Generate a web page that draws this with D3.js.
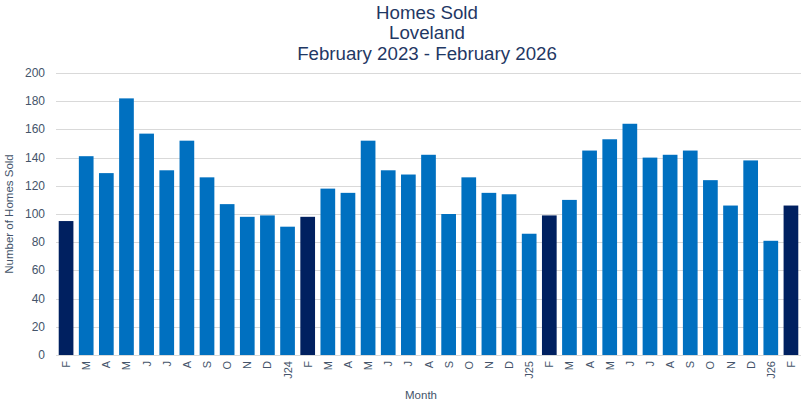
<!DOCTYPE html>
<html lang="en">
<head>
    <meta charset="UTF-8">
    <script src="https://d3js.org/d3.v7.min.js"></script>
    <style>
        body { margin: 0; background: #fff; font-family: "Liberation Sans", Arial, sans-serif; }
        .grid line { stroke: #d9d9d9; stroke-width: 1px; }
        .tick-y { font-size: 12px; fill: #44546a; }
        .tick-x { font-size: 11px; fill: #44546a; }
        .title { font-size: 18.7px; fill: #1f3864; text-anchor: middle; }
        .axis-title { font-size: 11.5px; fill: #44546a; text-anchor: middle; }
    </style>
</head>
<body>
    <svg id="chart" width="809" height="406"></svg>
    <script>
        const months = ["F","M","A","M","J","J","A","S","O","N","D","J24",
                        "F","M","A","M","J","J","A","S","O","N","D","J25",
                        "F","M","A","M","J","J","A","S","O","N","D","J26","F"];
        const sold = [95,141,129,182,157,131,152,126,107,98,99,91,
                      98,118,115,152,131,128,142,100,126,115,114,86,
                      99,110,145,153,164,140,142,145,124,106,138,81,106];
        const highlight = [0, 12, 24, 36]; // February bars
        const yTicks = [0,20,40,60,80,100,120,140,160,180,200];
        const titleLines = ["Homes Sold", "Loveland", "February 2023 - February 2026"];

        const width = 809, height = 406;
        const margin = {top: 73, right: 8, bottom: 51, left: 56};
        const svg = d3.select("#chart");

        const data = sold.map((v, i) => ({i, label: months[i], value: v}));

        const x = d3.scaleBand().domain(data.map(d => d.i))
            .range([margin.left, width - margin.right]).paddingInner(0.27).paddingOuter(0.135);
        const y = d3.scaleLinear().domain([0, 200]).range([height - margin.bottom, margin.top]);

        // gridlines
        svg.append("g").attr("class", "grid")
            .selectAll("line").data(yTicks).enter().append("line")
            .attr("x1", margin.left).attr("x2", width - margin.right)
            .attr("y1", d => Math.round(y(d)) + 0.5).attr("y2", d => Math.round(y(d)) + 0.5);

        // y tick labels
        svg.append("g").selectAll("text").data(yTicks).enter().append("text")
            .attr("class", "tick-y")
            .attr("x", 45).attr("y", d => y(d) + 4)
            .attr("text-anchor", "end")
            .text(d => d);

        // bars
        svg.append("g").selectAll("rect").data(data).enter().append("rect")
            .attr("x", d => x(d.i))
            .attr("y", d => y(d.value))
            .attr("width", x.bandwidth())
            .attr("height", d => y(0) - y(d.value))
            .attr("fill", d => highlight.includes(d.i) ? "#002060" : "#0070c0");

        // x tick labels (rotated)
        svg.append("g").selectAll("text").data(data).enter().append("text")
            .attr("class", "tick-x")
            .attr("transform", d => `translate(${x(d.i) + x.bandwidth() / 2 + 4},${y(0) + 6}) rotate(-90)`)
            .attr("text-anchor", "end")
            .text(d => d.label);

        // titles
        svg.append("g").selectAll("text").data(titleLines).enter().append("text")
            .attr("class", "title")
            .attr("x", 427).attr("y", (d, k) => 19 + k * 20.3)
            .text(d => d);

        svg.append("text").attr("class", "axis-title")
            .attr("x", 421).attr("y", 399).text("Month");

        svg.append("text").attr("class", "axis-title")
            .attr("transform", `translate(13,${(y(0) + y(200)) / 2}) rotate(-90)`)
            .text("Number of Homes Sold");
    </script>
</body>
</html>
